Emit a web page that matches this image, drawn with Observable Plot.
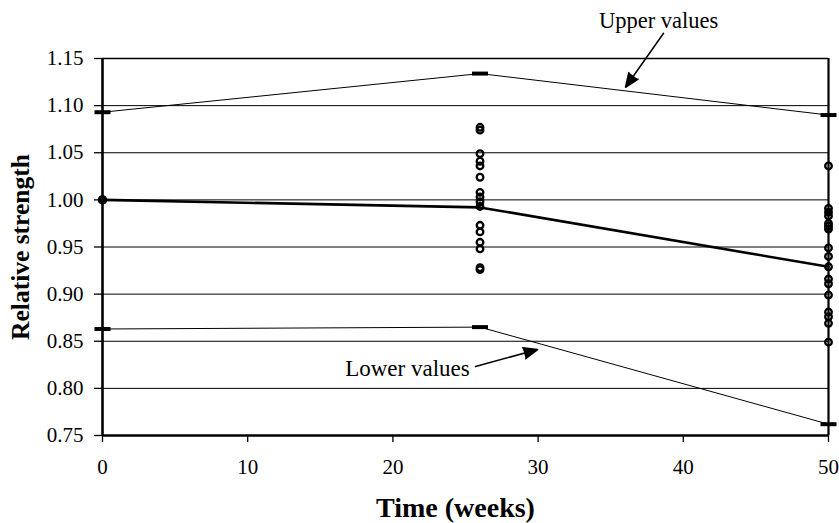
<!DOCTYPE html>
<html>
<head>
<meta charset="utf-8">
<script src="https://cdn.jsdelivr.net/npm/d3@7"></script>
<script src="https://cdn.jsdelivr.net/npm/@observablehq/plot@0.6"></script>
<style>
  html, body { margin: 0; padding: 0; background: #fff; }
  #chart svg { display: block; }
</style>
</head>
<body>
<div id="chart"></div>
<script>
// ---- data ----
const weeks = [0, 26, 50];
const meanStrength = [1.000, 0.992, 0.929];
const upperValues = [1.093, 1.134, 1.090];
const lowerValues = [0.863, 0.865, 0.762];

const week0Points = [1.000, 1.000, 1.000, 1.000, 1.000];
const week26Points = [1.077, 1.074, 1.049, 1.041, 1.036, 1.024, 1.008, 1.003, 0.998, 0.993, 0.973, 0.966, 0.955, 0.948, 0.928, 0.926];
const week50Points = [1.036, 0.991, 0.987, 0.983, 0.975, 0.972, 0.969, 0.949, 0.940, 0.929, 0.916, 0.911, 0.899, 0.881, 0.876, 0.869, 0.849];

const yTicks = [0.75, 0.80, 0.85, 0.90, 0.95, 1.00, 1.05, 1.10, 1.15];
const xTicks = [0, 10, 20, 30, 40, 50];
const annotationLabels = ["Upper values", "Lower values"];
const xTitle = "Time (weeks)";
const yTitle = "Relative strength";

// ---- tables built from arrays ----
const meanRows = weeks.map((w, i) => ({week: w, value: meanStrength[i]}));
const upperRows = weeks.map((w, i) => ({week: w, value: upperValues[i]}));
const lowerRows = weeks.map((w, i) => ({week: w, value: lowerValues[i]}));
const pointRows = [
  ...week0Points.map(v => ({week: weeks[0], value: v})),
  ...week26Points.map(v => ({week: weeks[1], value: v})),
  ...week50Points.map(v => ({week: weeks[2], value: v}))
];
const boundRows = [...upperRows, ...lowerRows];

const dash = { draw(ctx) { ctx.rect(-8, -2, 16, 4); } };

const FONT = "'Liberation Serif', 'Times New Roman', serif";

const chart = Plot.plot({
  width: 839,
  height: 523,
  marginLeft: 102,
  marginRight: 11,
  marginTop: 58,
  marginBottom: 88,
  style: {fontFamily: FONT, fontSize: "20px", color: "#000", background: "#fff", overflow: "visible"},
  x: {domain: [0, 50]},
  y: {domain: [0.75, 1.15]},
  marks: [
    Plot.ruleY(yTicks, {stroke: "#000", strokeWidth: 1}),
    Plot.axisY({ticks: yTicks, tickFormat: d3.format(".2f"), tickSize: 8, tickPadding: 11, label: null, stroke: "#000", strokeWidth: 1.3, fontSize: 21}),
    Plot.axisX({ticks: xTicks, tickFormat: d3.format("d"), tickSize: 7, tickPadding: 17, label: null, stroke: "#000", strokeWidth: 1.3, fontSize: 21}),
    Plot.ruleY([0.75], {stroke: "#000", strokeWidth: 2.6}),
    Plot.ruleY([1.15], {stroke: "#000", strokeWidth: 1.6}),
    Plot.ruleX([0], {stroke: "#000", strokeWidth: 2.6}),
    Plot.ruleX([50], {stroke: "#000", strokeWidth: 2.2}),
    Plot.line(upperRows, {x: "week", y: "value", stroke: "#000", strokeWidth: 1}),
    Plot.line(lowerRows, {x: "week", y: "value", stroke: "#000", strokeWidth: 1}),
    Plot.line(meanRows, {x: "week", y: "value", stroke: "#000", strokeWidth: 2.6}),
    Plot.dot(pointRows, {x: "week", y: "value", r: 3.3, stroke: "#000", strokeWidth: 2.3, fill: "none"}),
    Plot.dot(boundRows, {x: "week", y: "value", symbol: dash, r: 5, fill: "#000", stroke: "none"}),
    // annotations (anchors in data units)
    Plot.text([annotationLabels[0]], {x: 38.3, y: 1.1896, text: d => d, fontSize: 22.5, fill: "#000"}),
    Plot.text([annotationLabels[1]], {x: 21.0, y: 0.8211, text: d => d, fontSize: 23, fill: "#000"}),
    Plot.arrow([0], {x1: 38.64, y1: 1.1768, x2: 36.02, y2: 1.1195, stroke: "#000", fill: "#000", strokeWidth: 1.5, headLength: 15, headAngle: 45, inset: 0}),
    Plot.arrow([0], {x1: 25.69, y1: 0.8232, x2: 29.96, y2: 0.8412, stroke: "#000", fill: "#000", strokeWidth: 1.5, headLength: 15, headAngle: 45, inset: 0}),
    // axis titles
    Plot.text([yTitle], {frameAnchor: "left", dx: -82, rotate: -90, textAnchor: "middle", lineAnchor: "middle", text: d => d, fontSize: 25.5, fontWeight: "bold", fill: "#000"}),
    Plot.text([xTitle], {frameAnchor: "bottom", dx: -10, dy: 73, textAnchor: "middle", lineAnchor: "middle", text: d => d, fontSize: 28, fontWeight: "bold", fill: "#000"})
  ]
});

document.getElementById("chart").appendChild(chart);
</script>
</body>
</html>
